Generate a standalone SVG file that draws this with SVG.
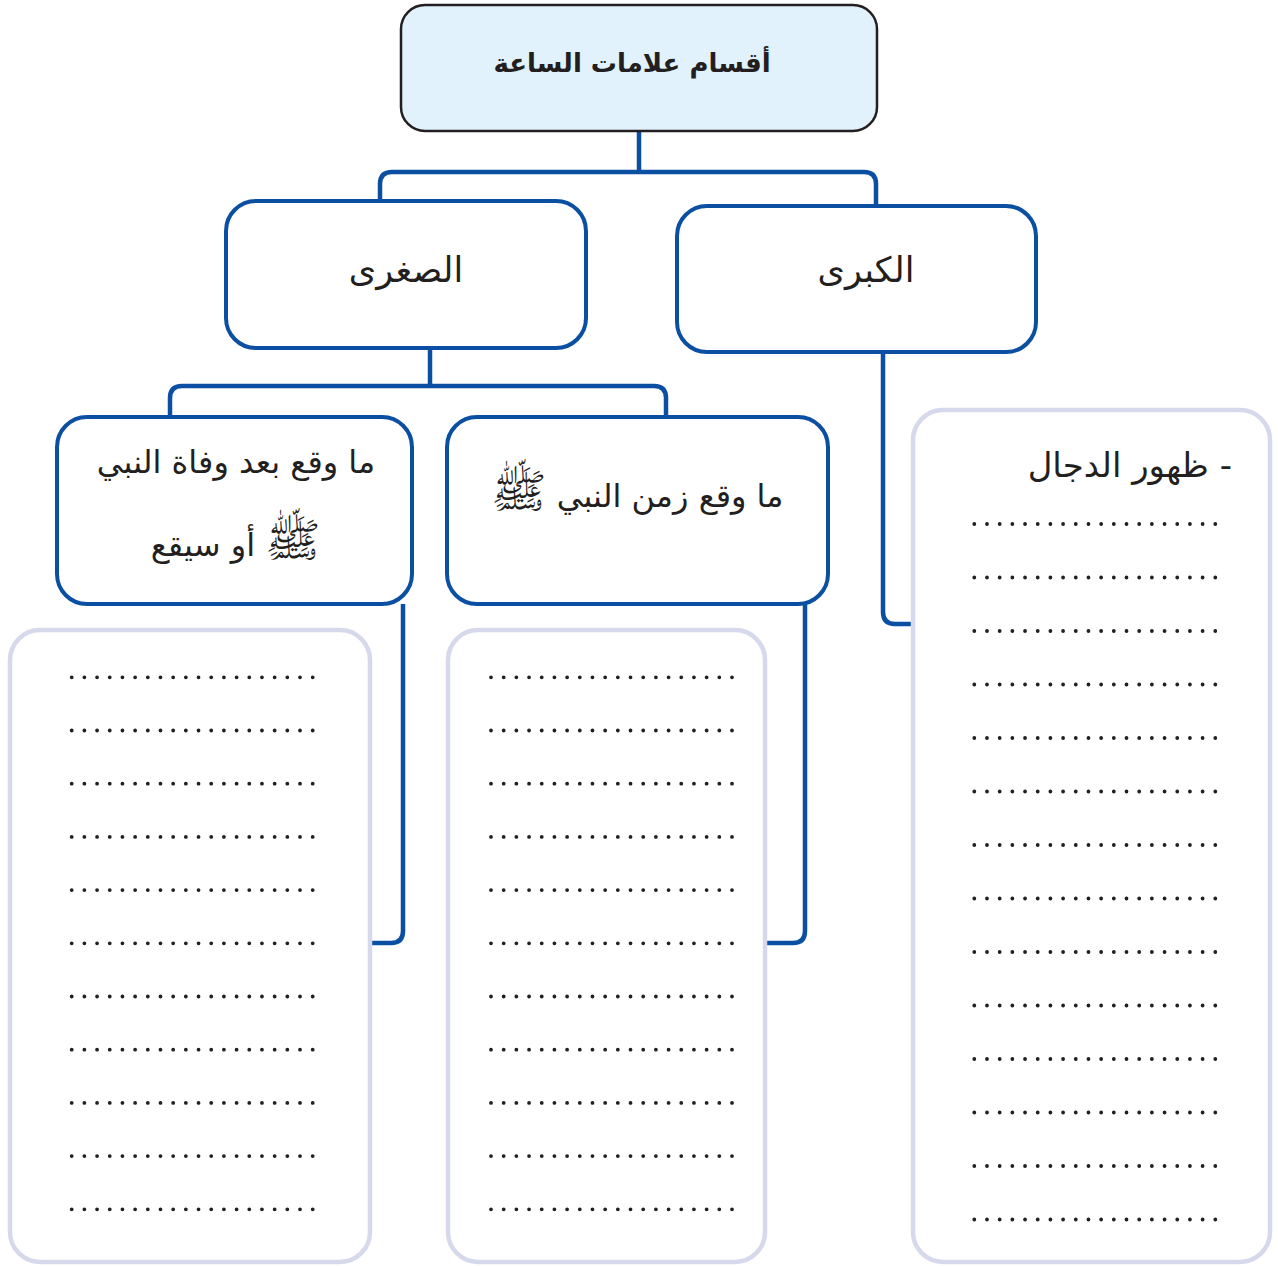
<svg xmlns="http://www.w3.org/2000/svg" width="1278" height="1266" viewBox="0 0 1278 1266">
<style>
.conn{fill:none;stroke:#0b4fa3;stroke-width:4.5;stroke-linejoin:round}
.node{fill:#ffffff;stroke:#0b4fa3;stroke-width:4}
.root{fill:#e1f2fc;stroke:#231f20;stroke-width:2.5}
.panel{fill:#ffffff;stroke:#d6d9ec;stroke-width:4.5}
.dots{stroke:#231f20;stroke-width:3.8;stroke-linecap:round;stroke-dasharray:0 12.684}
.t{font-family:"DejaVu Sans",sans-serif;fill:#231f20;text-anchor:middle}
.saw{font-size:46px}
</style>
<rect width="1278" height="1266" fill="#ffffff"/>
<g id="connectors">
<path class="conn" d="M639,131 V172"/>
<path class="conn" d="M380,201 V184 Q380,172 392,172 H864 Q876,172 876,184 V206"/>
<path class="conn" d="M430,348 V386"/>
<path class="conn" d="M170,417 V398 Q170,386 182,386 H654 Q666,386 666,398 V417"/>
<path class="conn" d="M883,352 V612 Q883,624 895,624 H913"/>
<path class="conn" d="M805,604 V931 Q805,943 793,943 H766"/>
<path class="conn" d="M403,604 V931 Q403,943 391,943 H371"/>
</g>
<g id="root">
<rect class="root" x="401" y="5" width="476" height="126" rx="24"/>
<text class="t" x="632" y="72" font-size="26" font-weight="bold">أقسام علامات الساعة</text>
</g>
<g id="sughra">
<rect class="node" x="226" y="201" width="360" height="147" rx="30"/>
<text class="t" x="406" y="282" font-size="35">الصغرى</text>
</g>
<g id="kubra">
<rect class="node" x="677" y="206" width="359" height="146" rx="30"/>
<text class="t" x="866" y="282" font-size="35">الكبرى</text>
</g>
<g id="after">
<rect class="node" x="57" y="417" width="355" height="187" rx="30"/>
<text class="t" x="236" y="473" font-size="32">ما وقع بعد وفاة النبي</text>
<text class="t" x="236" y="556" font-size="32"><tspan class="saw">ﷺ</tspan> أو سيقع</text>
</g>
<g id="during">
<rect class="node" x="447" y="417" width="381" height="187" rx="30"/>
<text class="t" x="637" y="507" font-size="32">ما وقع زمن النبي <tspan class="saw">ﷺ</tspan></text>
</g>
<g id="panel-left">
<rect class="panel" x="10" y="630" width="360" height="632" rx="30"/>
<line class="dots" x1="71.7" y1="677.3" x2="312.7" y2="677.3"/>
<line class="dots" x1="71.7" y1="730.5" x2="312.7" y2="730.5"/>
<line class="dots" x1="71.7" y1="783.7" x2="312.7" y2="783.7"/>
<line class="dots" x1="71.7" y1="836.9" x2="312.7" y2="836.9"/>
<line class="dots" x1="71.7" y1="890.1" x2="312.7" y2="890.1"/>
<line class="dots" x1="71.7" y1="943.3" x2="312.7" y2="943.3"/>
<line class="dots" x1="71.7" y1="996.5" x2="312.7" y2="996.5"/>
<line class="dots" x1="71.7" y1="1049.7" x2="312.7" y2="1049.7"/>
<line class="dots" x1="71.7" y1="1102.9" x2="312.7" y2="1102.9"/>
<line class="dots" x1="71.7" y1="1156.1" x2="312.7" y2="1156.1"/>
<line class="dots" x1="71.7" y1="1209.3" x2="312.7" y2="1209.3"/>
</g>
<g id="panel-middle">
<rect class="panel" x="448" y="630" width="317" height="632" rx="30"/>
<line class="dots" x1="491" y1="677.3" x2="732" y2="677.3"/>
<line class="dots" x1="491" y1="730.5" x2="732" y2="730.5"/>
<line class="dots" x1="491" y1="783.7" x2="732" y2="783.7"/>
<line class="dots" x1="491" y1="836.9" x2="732" y2="836.9"/>
<line class="dots" x1="491" y1="890.1" x2="732" y2="890.1"/>
<line class="dots" x1="491" y1="943.3" x2="732" y2="943.3"/>
<line class="dots" x1="491" y1="996.5" x2="732" y2="996.5"/>
<line class="dots" x1="491" y1="1049.7" x2="732" y2="1049.7"/>
<line class="dots" x1="491" y1="1102.9" x2="732" y2="1102.9"/>
<line class="dots" x1="491" y1="1156.1" x2="732" y2="1156.1"/>
<line class="dots" x1="491" y1="1209.3" x2="732" y2="1209.3"/>
</g>
<g id="panel-right">
<rect class="panel" x="913" y="410" width="357" height="852" rx="30"/>
<text class="t" x="1232" y="477" font-size="34" style="text-anchor:start" direction="rtl">- ظهور الدجال</text>
<line class="dots" x1="974.3" y1="524" x2="1215.7" y2="524"/>
<line class="dots" x1="974.3" y1="577.5" x2="1215.7" y2="577.5"/>
<line class="dots" x1="974.3" y1="631" x2="1215.7" y2="631"/>
<line class="dots" x1="974.3" y1="684.5" x2="1215.7" y2="684.5"/>
<line class="dots" x1="974.3" y1="738" x2="1215.7" y2="738"/>
<line class="dots" x1="974.3" y1="791.5" x2="1215.7" y2="791.5"/>
<line class="dots" x1="974.3" y1="845" x2="1215.7" y2="845"/>
<line class="dots" x1="974.3" y1="898.5" x2="1215.7" y2="898.5"/>
<line class="dots" x1="974.3" y1="952" x2="1215.7" y2="952"/>
<line class="dots" x1="974.3" y1="1005.5" x2="1215.7" y2="1005.5"/>
<line class="dots" x1="974.3" y1="1059" x2="1215.7" y2="1059"/>
<line class="dots" x1="974.3" y1="1112.5" x2="1215.7" y2="1112.5"/>
<line class="dots" x1="974.3" y1="1166" x2="1215.7" y2="1166"/>
<line class="dots" x1="974.3" y1="1219.5" x2="1215.7" y2="1219.5"/>
</g>
</svg>
